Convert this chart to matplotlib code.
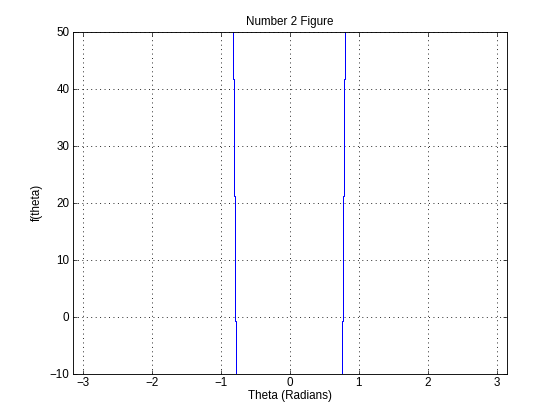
import numpy as np
import matplotlib
matplotlib.use('Agg')
import matplotlib.pyplot as plt

# each curve is a near-vertical staircase
y_breaks = [50, 41.6, 21.1, -0.8, -10]
left_x = [-0.825, -0.812, -0.798, -0.784]
right_x = [0.802, 0.788, 0.773, 0.759]
x_ticks = [-3, -2, -1, 0, 1, 2, 3]
y_ticks = [-10, 0, 10, 20, 30, 40, 50]

def stair(xs, ys):
    # vertical segment for each x between consecutive y breaks
    px = np.repeat(xs, 2)
    py = np.concatenate([[ys[0]], np.repeat(ys[1:-1], 2), [ys[-1]]])
    return px, py

plt.rcParams['font.family'] = ['Liberation Sans', 'DejaVu Sans']
fig = plt.figure(figsize=(7, 5.25), dpi=80)
ax = fig.add_axes([0.13, 0.11, 0.775, 0.815])

lx, ly = stair(left_x, y_breaks)
rx, ry = stair(right_x, y_breaks)
ax.plot(lx, ly, color='blue', lw=0.9)
ax.plot(rx, ry, color='blue', lw=0.9)

ax.set_xlim(-np.pi, np.pi)
ax.set_ylim(-10, 50)
ax.set_xticks(x_ticks)
ax.set_yticks(y_ticks)
ax.grid(True, color='black', linestyle=(0, (1, 4)), linewidth=0.8)
ax.tick_params(direction='in', top=True, right=True, labelsize=10.5, length=4, width=0.6, pad=3)
for s in ax.spines.values():
    s.set_linewidth(0.8)

ax.set_title('Number 2 Figure', fontsize=10.5, pad=6)
ax.set_xlabel('Theta (Radians)', fontsize=10.5, labelpad=1)
ax.set_ylabel('f(theta)', fontsize=10.5, labelpad=6)

fig.savefig('out.png', dpi=80, facecolor='white')
